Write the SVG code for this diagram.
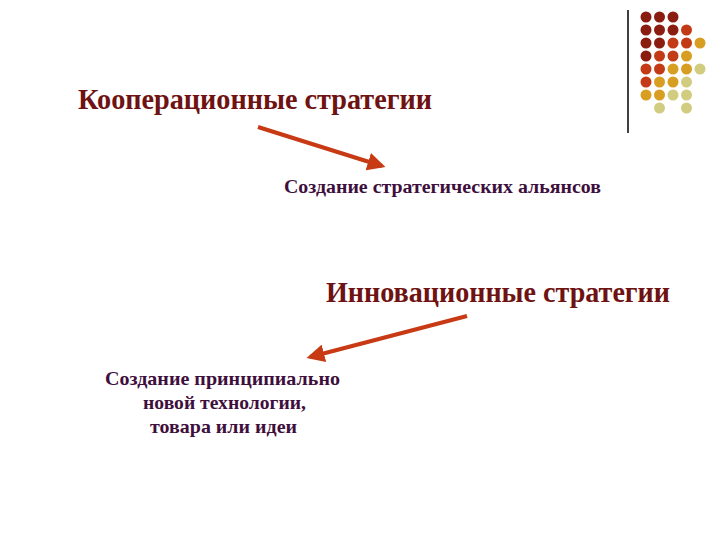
<svg xmlns="http://www.w3.org/2000/svg" width="720" height="540" viewBox="0 0 720 540">
<defs>
<style>
.title{font-family:"Liberation Serif","Times New Roman",serif;font-weight:bold;font-size:30px;fill:#6e1212}
.sub{font-family:"Liberation Serif","Times New Roman",serif;font-weight:bold;font-size:18px;fill:#3e0f3c}
.sub2{font-family:"Liberation Serif","Times New Roman",serif;font-weight:bold;font-size:19.5px;fill:#3e0f3c}
.conn{stroke:#c83a14;stroke-width:4;fill:none}
.d1{fill:#8a1c10}.d2{fill:#c23a16}.d3{fill:#d65a1e}.d4{fill:#d89e22}.d5{fill:#d2cc80}
</style>
<marker id="ah" viewBox="0 0 10 10" refX="8" refY="5" markerWidth="4.5" markerHeight="4.5" orient="auto" markerUnits="strokeWidth">
<path d="M0,0 L10,5 L0,10 Z" fill="#c83a14"/>
</marker>
</defs>
<rect width="720" height="540" fill="#ffffff"/>
<g id="decor">
<line x1="628" y1="10" x2="628" y2="133" stroke="#000" stroke-width="1.5"/>
<circle class="d1" cx="646" cy="17" r="5.5"/><circle class="d1" cx="659.5" cy="17" r="5.5"/><circle class="d1" cx="673" cy="17" r="5.5"/>
<circle class="d1" cx="646" cy="30" r="5.5"/><circle class="d1" cx="659.5" cy="30" r="5.5"/><circle class="d1" cx="673" cy="30" r="5.5"/><circle class="d2" cx="686.5" cy="30" r="5.5"/>
<circle class="d1" cx="646" cy="43" r="5.5"/><circle class="d1" cx="659.5" cy="43" r="5.5"/><circle class="d2" cx="673" cy="43" r="5.5"/><circle class="d2" cx="686.5" cy="43" r="5.5"/><circle class="d4" cx="700" cy="43" r="5.5"/>
<circle class="d1" cx="646" cy="56" r="5.5"/><circle class="d2" cx="659.5" cy="56" r="5.5"/><circle class="d2" cx="673" cy="56" r="5.5"/><circle class="d4" cx="686.5" cy="56" r="5.5"/>
<circle class="d2" cx="646" cy="69" r="5.5"/><circle class="d2" cx="659.5" cy="69" r="5.5"/><circle class="d4" cx="673" cy="69" r="5.5"/><circle class="d4" cx="686.5" cy="69" r="5.5"/><circle class="d5" cx="700" cy="69" r="5.5"/>
<circle class="d2" cx="646" cy="82" r="5.5"/><circle class="d4" cx="659.5" cy="82" r="5.5"/><circle class="d4" cx="673" cy="82" r="5.5"/><circle class="d5" cx="686.5" cy="82" r="5.5"/>
<circle class="d4" cx="646" cy="95" r="5.5"/><circle class="d4" cx="659.5" cy="95" r="5.5"/><circle class="d5" cx="673" cy="95" r="5.5"/><circle class="d5" cx="686.5" cy="95" r="5.5"/>
<circle class="d5" cx="659.5" cy="108" r="5.5"/><circle class="d5" cx="686.5" cy="108" r="5.5"/>
</g>
<g id="connectors">
<line class="conn" x1="258" y1="127" x2="382" y2="166" marker-end="url(#ah)"/>
<line class="conn" x1="467" y1="316" x2="310" y2="357" marker-end="url(#ah)"/>
</g>
<g id="coop">
<text class="title" x="78" y="109" textLength="354" lengthAdjust="spacingAndGlyphs">Кооперационные стратегии</text>
</g>
<g id="alliances">
<text class="sub" x="284" y="193" textLength="317" lengthAdjust="spacingAndGlyphs">Создание стратегических альянсов</text>
</g>
<g id="innov">
<text class="title" x="326" y="302" textLength="344" lengthAdjust="spacingAndGlyphs">Инновационные стратегии</text>
</g>
<g id="newtech">
<text class="sub2" x="105" y="385" textLength="235" lengthAdjust="spacingAndGlyphs">Создание принципиально</text>
<text class="sub2" x="143" y="409" textLength="163" lengthAdjust="spacingAndGlyphs">новой технологии,</text>
<text class="sub2" x="150" y="433" textLength="147" lengthAdjust="spacingAndGlyphs">товара или идеи</text>
</g>
</svg>
